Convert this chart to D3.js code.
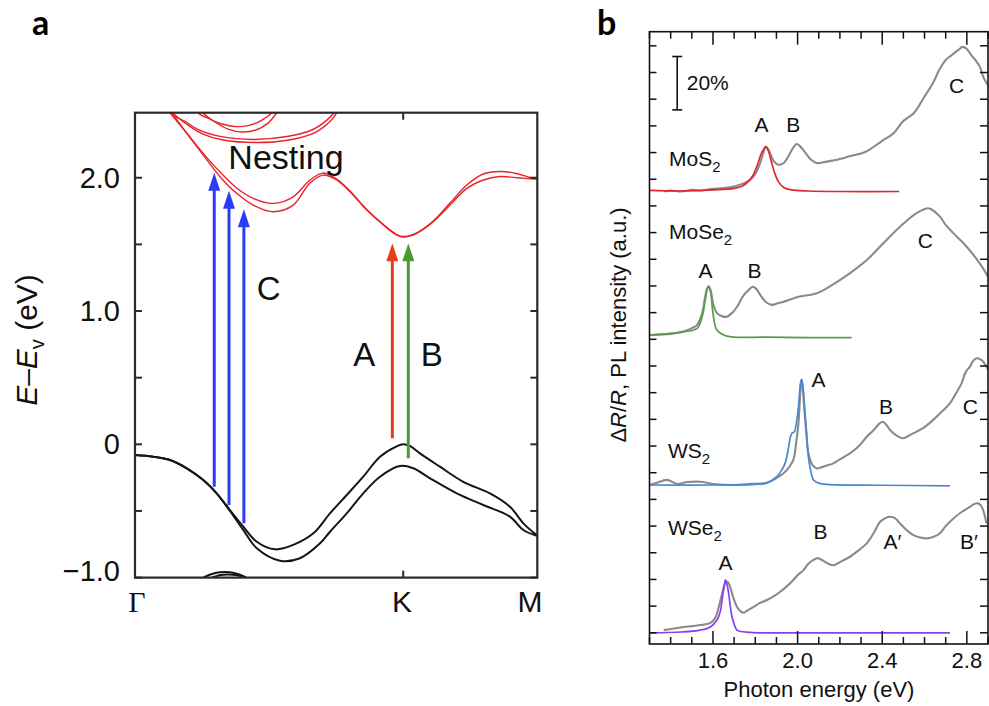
<!DOCTYPE html>
<html><head><meta charset="utf-8">
<script src="https://cdn.jsdelivr.net/npm/d3@7"></script>
<style>
body{margin:0;background:#fff;}
svg{display:block;font-family:"Liberation Sans",Arial,Helvetica,sans-serif;}
</style>
</head><body>
<svg id="fig" width="989" height="706"></svg>
<script>
// ---------------- Panel a : band structure ----------------
const kPoints = [0, 2, 3];
const kNames = ["Γ", "K", "M"];
const eTicks = [-1, -0.5, 0, 0.5, 1, 1.5, 2];
const eLabelVals = [-1, 0, 1, 2];
const eLabelText = ["−1.0", "0", "1.0", "2.0"];

// valence bands (black)
const vb1K = [0,0.136,0.261,0.386,0.509,0.609,0.708,0.808,0.908,1.044,1.180,1.330,1.454,1.579,1.702,1.827,1.951,2.0,2.05,2.125,2.274,2.448,2.647,2.796,2.896,3.0];
const vb1E = [-0.080,-0.093,-0.118,-0.180,-0.268,-0.368,-0.493,-0.618,-0.731,-0.788,-0.755,-0.668,-0.518,-0.380,-0.243,-0.093,-0.015,0.0,-0.012,-0.068,-0.168,-0.281,-0.368,-0.468,-0.593,-0.685];
const vb2K = [0,0.136,0.261,0.386,0.509,0.609,0.708,0.808,0.908,1.081,1.230,1.380,1.454,1.579,1.702,1.827,1.976,2.075,2.200,2.399,2.597,2.796,2.896,3.0];
const vb2E = [-0.080,-0.093,-0.118,-0.180,-0.268,-0.368,-0.500,-0.644,-0.780,-0.873,-0.855,-0.743,-0.656,-0.518,-0.368,-0.243,-0.163,-0.180,-0.255,-0.368,-0.455,-0.543,-0.643,-0.688];
const vb3K = [0.44,0.52,0.60,0.671,0.74,0.82,0.90];
const vb3E = [-1.06,-0.995,-0.965,-0.958,-0.965,-0.995,-1.06];
const vb4K = [0.47,0.55,0.63,0.69,0.76,0.84,0.92];
const vb4E = [-1.07,-1.01,-0.982,-0.976,-0.982,-1.01,-1.07];

// conduction bands (red)
const c1aK = [0.215,0.261,0.380,0.507,0.634,0.758,0.882,1.031,1.180,1.305,1.402,1.504,1.603,1.728,1.852,1.952,2.001,2.101,2.224,2.349,2.474,2.597,2.722,2.846,2.945,3.0];
const c1aE = [2.56,2.488,2.343,2.185,2.043,1.923,1.845,1.808,1.857,1.983,2.035,1.990,1.900,1.761,1.649,1.574,1.559,1.587,1.675,1.810,1.945,2.028,2.047,2.032,2.002,1.990];
const c1bK = [0.230,0.274,0.386,0.509,0.634,0.758,0.882,1.031,1.180,1.305,1.402,1.504,1.603,1.728,1.852,1.952,2.001,2.101,2.224,2.349,2.474,2.597,2.722,2.846,3.0];
const c1bE = [2.56,2.488,2.333,2.170,2.008,1.883,1.795,1.745,1.795,1.960,2.020,1.983,1.895,1.758,1.645,1.570,1.555,1.583,1.670,1.795,1.920,1.983,2.009,2.000,1.988];
const c2aK = [0.235,0.261,0.373,0.485,0.634,0.880,1.133,1.327,1.439,1.484,1.51];
const c2aE = [2.56,2.488,2.423,2.355,2.310,2.287,2.309,2.362,2.440,2.488,2.53];
const c2bK = [0.257,0.283,0.395,0.507,0.656,0.895,1.148,1.342,1.454,1.506,1.53];
const c2bE = [2.56,2.488,2.395,2.328,2.283,2.264,2.283,2.339,2.422,2.488,2.53];
const c3aK = [0.445,0.470,0.559,0.649,0.746,0.858,0.947,1.022,1.05];
const c3aE = [2.55,2.488,2.440,2.403,2.384,2.395,2.433,2.488,2.52];
const c3bK = [0.48,0.507,0.597,0.694,0.798,0.902,0.992,1.059,1.09];
const c3bE = [2.55,2.488,2.418,2.365,2.343,2.358,2.410,2.488,2.52];

// transitions (arrows)
const arrowK = [0.591, 0.701, 0.812, 1.919, 2.038];
const arrowFrom = [-0.318, -0.456, -0.593, 0.045, -0.105];
const arrowTo = [2.037, 1.902, 1.763, 1.508, 1.508];
const arrowColor = ["#2a3cf6", "#2a3cf6", "#2a3cf6", "#e5401a", "#4f9a2c"];

// annotations panel a (k, E)
const annA = [
  {t:"Nesting", k:0.696, e:2.065},
  {t:"C", k:0.908, e:1.083},
  {t:"A", k:1.628, e:0.587},
  {t:"B", k:2.130, e:0.587}
];

// ---------------- Panel b : spectra ----------------
const eTicksB = [1.6, 2.0, 2.4, 2.8];

const mos2GrayE = [1.37,1.40,1.45,1.50,1.55,1.60,1.65,1.70,1.75,1.78,1.80,1.82,1.835,1.85,1.86,1.875,1.89,1.91,1.935,1.96,1.98,1.995,2.01,2.03,2.06,2.09,2.13,2.18,2.25,2.32,2.40,2.45,2.50,2.55,2.60,2.64,2.67,2.70,2.73,2.76,2.78,2.80,2.82,2.84,2.86,2.88,2.90];
const mos2GrayV = [165.4,165.8,165.4,166.0,165.8,166.4,166.7,167.3,168.6,170.1,172.0,175.4,179.1,182.1,181.4,178.7,176.5,175.4,176.1,179.1,181.9,183.2,182.5,180.6,177.6,176.1,176.5,177.2,178.7,180.2,184.4,187.0,191.8,194.8,201.0,206.1,211.0,214.7,216.6,218.5,219.6,218.8,216.6,214.7,212.4,207.9,205.3];
const mos2PlE = [1.30,1.45,1.60,1.70,1.74,1.77,1.79,1.81,1.83,1.85,1.862,1.875,1.89,1.91,1.935,1.97,2.05,2.20,2.48];
const mos2PlV = [165.8,165.6,166.0,166.6,167.5,169.4,171.6,175.4,179.9,182.2,180.6,176.9,172.7,169.0,166.9,166.0,165.6,165.4,165.4];

const mose2GrayE = [1.31,1.40,1.46,1.50,1.525,1.549,1.562,1.573,1.58,1.59,1.60,1.619,1.645,1.666,1.69,1.714,1.74,1.761,1.789,1.805,1.824,1.85,1.879,1.91,1.934,2.00,2.091,2.17,2.248,2.327,2.405,2.484,2.563,2.618,2.65,2.673,2.70,2.736,2.799,2.861,2.90];
const mose2GrayV = [111.6,112.0,112.9,114.2,115.4,119.8,125.5,129.2,129.9,128.1,123.6,119.8,118.6,118.5,119.9,122.2,125.9,127.9,129.7,128.9,126.6,124.0,122.9,123.6,124.1,125.9,127.3,130.7,134.8,139.7,146.0,152.2,157.3,159.1,157.7,156.0,152.9,149.8,144.7,138.5,133.5];
const mose2PlE = [1.30,1.46,1.525,1.549,1.562,1.572,1.58,1.59,1.60,1.619,1.666,1.855,2.256];
const mose2PlV = [111.6,112.8,114.1,118.5,124.0,128.5,129.9,127.3,119.8,113.5,111.2,110.8,110.6];

const ws2GrayE = [1.30,1.33,1.383,1.43,1.48,1.54,1.60,1.698,1.78,1.855,1.90,1.934,1.96,1.98,1.995,2.004,2.012,2.017,2.024,2.031,2.042,2.051,2.07,2.091,2.13,2.169,2.21,2.248,2.29,2.327,2.36,2.385,2.402,2.42,2.437,2.47,2.50,2.53,2.563,2.60,2.641,2.68,2.72,2.75,2.775,2.795,2.814,2.83,2.846,2.87,2.893,2.90];
const ws2GrayV = [55.4,56.1,57.3,55.8,56.5,56.6,55.8,55.4,55.8,56.2,58.0,59.8,62.1,64.8,72.3,78.5,89.1,94.8,91.8,84.7,74.1,67.3,62.9,61.6,62.5,63.5,65.5,67.3,70.0,73.5,76.0,78.3,79.1,77.9,76.0,73.8,72.9,74.1,75.4,77.1,79.8,82.8,86.0,89.9,93.5,97.8,99.7,101.9,102.9,102.2,99.7,98.5];
const ws2PlE = [1.30,1.60,1.80,1.855,1.902,1.925,1.941,1.955,1.965,1.973,1.985,1.993,2.004,2.013,2.02,2.027,2.033,2.042,2.051,2.063,2.075,2.10,2.138,2.40,2.72];
const ws2PlV = [55.4,55.4,55.6,56.2,58.5,61.0,63.5,68.5,73.0,74.8,75.4,77.9,84.7,92.9,95.0,91.0,84.7,75.3,66.0,60.3,57.3,56.1,55.6,55.3,55.1];

const wse2GrayE = [1.367,1.40,1.462,1.50,1.54,1.588,1.61,1.63,1.645,1.658,1.669,1.68,1.69,1.70,1.714,1.73,1.745,1.765,1.792,1.82,1.855,1.89,1.918,1.95,1.98,2.00,2.028,2.05,2.075,2.095,2.115,2.14,2.169,2.20,2.248,2.29,2.327,2.36,2.39,2.415,2.437,2.46,2.484,2.515,2.547,2.58,2.61,2.64,2.673,2.70,2.72,2.745,2.767,2.79,2.814,2.835,2.853,2.865,2.877,2.893];
const wse2GrayV = [1.0,1.4,2.2,2.5,2.9,3.7,5.5,10.4,15.3,18.6,19.1,17.5,14.8,12.3,9.7,8.1,7.5,8.5,9.7,11.1,12.3,13.8,15.4,17.5,19.8,21.6,23.5,25.8,27.3,28.0,27.3,26.1,25.3,26.5,28.5,31.0,33.5,37.4,41.6,43.0,43.5,43.0,41.0,38.5,36.6,35.7,35.4,35.9,37.3,40.0,41.6,43.4,44.8,46.0,47.2,48.3,48.5,47.9,46.0,41.0];
const wse2PlE = [1.30,1.45,1.54,1.588,1.619,1.635,1.643,1.652,1.659,1.666,1.674,1.682,1.69,1.70,1.714,1.776,2.00,2.72];
const wse2PlV = [0.0,0.3,1.0,2.2,4.8,8.1,12.2,16.8,19.8,18.3,14.8,10.0,6.0,3.3,1.0,0.15,0.0,0.0];

const plColors = ["#e3262b", "#5a9a48", "#4a88cf", "#8b3ff0"];
const grayColor = "#8a8a8a";

// scale bar (20 %)
const barBottom = 196, barTop = 216, barE = 1.431;

// annotations panel b (energy, value) ; anchor
const annB = [
  {t:"20%", e:1.476, v:203.5, a:"start"},
  {t:"C", e:2.751, v:202.2, a:"middle"},
  {t:"A", e:1.829, v:187.6, a:"middle"},
  {t:"B", e:1.980, v:187.6, a:"middle"},
  {t:"C", e:2.604, v:144.1, a:"middle"},
  {t:"A", e:1.565, v:132.9, a:"middle"},
  {t:"B", e:1.796, v:132.9, a:"middle"},
  {t:"A", e:2.099, v:92.2, a:"middle"},
  {t:"B", e:2.418, v:82.0, a:"middle"},
  {t:"C", e:2.817, v:82.0, a:"middle"},
  {t:"B", e:2.108, v:35.0, a:"middle"},
  {t:"A′", e:2.448, v:31.3, a:"middle"},
  {t:"B′", e:2.810, v:31.3, a:"middle"},
  {t:"A", e:1.659, v:23.5, a:"middle"}
];
const materials = [
  {m:"MoS", s:"2", e:1.392, v:175.1},
  {m:"MoSe", s:"2", e:1.392, v:147.6},
  {m:"WS", s:"2", e:1.387, v:65.6},
  {m:"WSe", s:"2", e:1.387, v:36.6}
];

// ======================= drawing =======================
const svg = d3.select("#fig");
svg.append("rect").attr("width", 989).attr("height", 706).attr("fill", "#fff");

// panel letters
svg.append("text").attr("x", 32).attr("y", 35).text("a")
  .attr("font-family", "Lato, 'Open Sans', sans-serif").attr("font-weight", 700).attr("font-size", 34);
svg.append("text").attr("x", 597).attr("y", 35).text("b")
  .attr("font-family", "Lato, 'Open Sans', sans-serif").attr("font-weight", 700).attr("font-size", 34);

// ---------- panel a ----------
const xA = d3.scaleLinear().domain([0, 3]).range([135, 537.3]);
const yA = d3.scaleLinear().domain([-1, 2.488]).range([577.6, 112.7]);
const gA = svg.append("g");
gA.append("clipPath").attr("id", "clipA").append("rect")
  .attr("x", xA(0)).attr("y", yA(2.488)).attr("width", xA(3) - xA(0)).attr("height", yA(-1) - yA(2.488));

const bandLine = d3.line().x(d => xA(d[0])).y(d => yA(d[1])).curve(d3.curveCatmullRom.alpha(0.5));
const zip = (a, b) => a.map((v, i) => [v, b[i]]);
const plot = gA.append("g").attr("clip-path", "url(#clipA)");

[[vb1K, vb1E], [vb2K, vb2E], [vb3K, vb3E], [vb4K, vb4E]].forEach(([k, e]) => {
  plot.append("path").attr("d", bandLine(zip(k, e))).attr("fill", "none")
    .attr("stroke", "#151515").attr("stroke-width", 2);
});
[[c1aK, c1aE], [c1bK, c1bE], [c2aK, c2aE], [c2bK, c2bE], [c3aK, c3aE], [c3bK, c3bE]].forEach(([k, e]) => {
  plot.append("path").attr("d", bandLine(zip(k, e))).attr("fill", "none")
    .attr("stroke", "#e8232a").attr("stroke-width", 1.4);
});

// arrows
arrowK.forEach((k, i) => {
  const x = xA(k), y0 = yA(arrowFrom[i]), y1 = yA(arrowTo[i]);
  const hl = 18, hw = 6;
  plot.append("line").attr("x1", x).attr("x2", x).attr("y1", y0).attr("y2", y1 + hl - 2)
    .attr("stroke", arrowColor[i]).attr("stroke-width", 3);
  plot.append("path").attr("d", `M${x},${y1}L${x - hw},${y1 + hl}L${x + hw},${y1 + hl}Z`)
    .attr("fill", arrowColor[i]);
});

// frame and ticks
gA.append("rect").attr("x", xA(0)).attr("y", yA(2.488)).attr("width", xA(3) - xA(0))
  .attr("height", yA(-1) - yA(2.488)).attr("fill", "none").attr("stroke", "#2a2a2a").attr("stroke-width", 2.2);
eTicks.forEach(v => {
  gA.append("line").attr("x1", xA(0)).attr("x2", xA(0) + 7).attr("y1", yA(v)).attr("y2", yA(v))
    .attr("stroke", "#2a2a2a").attr("stroke-width", 2);
  gA.append("line").attr("x1", xA(3)).attr("x2", xA(3) - 7).attr("y1", yA(v)).attr("y2", yA(v))
    .attr("stroke", "#2a2a2a").attr("stroke-width", 2);
});
gA.append("line").attr("x1", xA(2)).attr("x2", xA(2)).attr("y1", yA(2.488)).attr("y2", yA(2.488) + 7)
  .attr("stroke", "#2a2a2a").attr("stroke-width", 2);
gA.append("line").attr("x1", xA(2)).attr("x2", xA(2)).attr("y1", yA(-1)).attr("y2", yA(-1) - 7)
  .attr("stroke", "#2a2a2a").attr("stroke-width", 2);

// tick labels
eLabelVals.forEach((v, i) => {
  gA.append("text").attr("x", 120).attr("y", Math.min(yA(v) + 10, yA(-1) + 3))
    .attr("text-anchor", "end").attr("font-size", 29).attr("fill", "#111").text(eLabelText[i]);
});
const kLabelX = [137, 402, 530];
kPoints.forEach((k, i) => {
  gA.append("text").attr("x", kLabelX[i]).attr("y", 612).attr("text-anchor", "middle")
    .attr("font-size", 30).attr("fill", "#111")
    .attr("font-family", i === 0 ? "'Liberation Serif','Times New Roman',serif" : null)
    .text(kNames[i]);
});

// y axis label
const ylA = gA.append("text").attr("transform", "translate(37,340) rotate(-90)")
  .attr("text-anchor", "middle").attr("font-size", 30).attr("fill", "#111");
ylA.append("tspan").attr("font-style", "italic").text("E");
ylA.append("tspan").text("–");
ylA.append("tspan").attr("font-style", "italic").text("E");
ylA.append("tspan").attr("font-size", 20).attr("dy", 7).text("v");
ylA.append("tspan").attr("dy", -7).text(" (eV)");

annA.forEach(a => {
  gA.append("text").attr("x", xA(a.k)).attr("y", yA(a.e)).attr("font-size", a.t === "Nesting" ? 34 : 33)
    .attr("fill", "#111").text(a.t);
});

// ---------- panel b ----------
const xB = d3.scaleLinear().domain([1.3, 2.9]).range([649.5, 988]);
const yB = d3.scaleLinear().domain([-4.2, 225.3]).range([644, 31.7]);
const gB = svg.append("g");
gB.append("clipPath").attr("id", "clipB").append("rect")
  .attr("x", xB(1.3)).attr("y", yB(225.3)).attr("width", xB(2.9) - xB(1.3)).attr("height", yB(-4.2) - yB(225.3));
const plotB = gB.append("g").attr("clip-path", "url(#clipB)");
const specLine = d3.line().x(d => xB(d[0])).y(d => yB(d[1])).curve(d3.curveCatmullRom.alpha(0.5));

const grays = [[mos2GrayE, mos2GrayV], [mose2GrayE, mose2GrayV], [ws2GrayE, ws2GrayV], [wse2GrayE, wse2GrayV]];
const pls = [[mos2PlE, mos2PlV], [mose2PlE, mose2PlV], [ws2PlE, ws2PlV], [wse2PlE, wse2PlV]];
grays.forEach(([e, v]) => {
  plotB.append("path").attr("d", specLine(zip(e, v))).attr("fill", "none")
    .attr("stroke", grayColor).attr("stroke-width", 2.1).attr("stroke-linejoin", "round");
});
pls.forEach(([e, v], i) => {
  plotB.append("path").attr("d", specLine(zip(e, v))).attr("fill", "none")
    .attr("stroke", plColors[i]).attr("stroke-width", 1.7);
});

// frame
gB.append("rect").attr("x", xB(1.3)).attr("y", yB(225.3)).attr("width", xB(2.9) - xB(1.3))
  .attr("height", yB(-4.2) - yB(225.3)).attr("fill", "none").attr("stroke", "#111").attr("stroke-width", 1.6);

// x ticks (bottom & top)
const minorB = d3.range(13, 30).map(i => i / 10);
minorB.forEach(e => {
  const major = eTicksB.some(m => Math.abs(m - e) < 1e-6);
  const len = major ? 13 : 7;
  gB.append("line").attr("x1", xB(e)).attr("x2", xB(e)).attr("y1", yB(-4.2)).attr("y2", yB(-4.2) - len)
    .attr("stroke", "#111").attr("stroke-width", 1.5);
  gB.append("line").attr("x1", xB(e)).attr("x2", xB(e)).attr("y1", yB(225.3)).attr("y2", yB(225.3) + len)
    .attr("stroke", "#111").attr("stroke-width", 1.5);
});
// y ticks (left & right)
d3.range(0, 221, 10).forEach(v => {
  gB.append("line").attr("x1", xB(1.3)).attr("x2", xB(1.3) + 7).attr("y1", yB(v)).attr("y2", yB(v))
    .attr("stroke", "#111").attr("stroke-width", 1.5);
  gB.append("line").attr("x1", xB(2.9)).attr("x2", xB(2.9) - 8).attr("y1", yB(v)).attr("y2", yB(v))
    .attr("stroke", "#111").attr("stroke-width", 1.5);
});
eTicksB.forEach(e => {
  gB.append("text").attr("x", xB(e)).attr("y", 668).attr("text-anchor", "middle")
    .attr("font-size", 22).attr("fill", "#111").text(e.toFixed(1));
});
gB.append("text").attr("x", 819).attr("y", 697).attr("text-anchor", "middle")
  .attr("font-size", 22).attr("fill", "#111").text("Photon energy (eV)");

const ylB = gB.append("text").attr("transform", "translate(626,325) rotate(-90)")
  .attr("text-anchor", "middle").attr("font-size", 22).attr("fill", "#111");
ylB.append("tspan").text("Δ");
ylB.append("tspan").attr("font-style", "italic").text("R");
ylB.append("tspan").text("/");
ylB.append("tspan").attr("font-style", "italic").text("R");
ylB.append("tspan").text(", PL intensity (a.u.)");

// scale bar
const bx = xB(barE);
gB.append("line").attr("x1", bx).attr("x2", bx).attr("y1", yB(barBottom)).attr("y2", yB(barTop))
  .attr("stroke", "#111").attr("stroke-width", 1.6);
[barBottom, barTop].forEach(v => {
  gB.append("line").attr("x1", bx - 5).attr("x2", bx + 5).attr("y1", yB(v)).attr("y2", yB(v))
    .attr("stroke", "#111").attr("stroke-width", 1.6);
});

annB.forEach(a => {
  gB.append("text").attr("x", xB(a.e)).attr("y", yB(a.v)).attr("text-anchor", a.a)
    .attr("font-size", 21).attr("fill", "#111").text(a.t);
});
materials.forEach(m => {
  const t = gB.append("text").attr("x", xB(m.e)).attr("y", yB(m.v)).attr("font-size", 21).attr("fill", "#111");
  t.append("tspan").text(m.m);
  t.append("tspan").attr("font-size", 15).attr("dy", 6).text(m.s);
});
</script>
</body></html>
